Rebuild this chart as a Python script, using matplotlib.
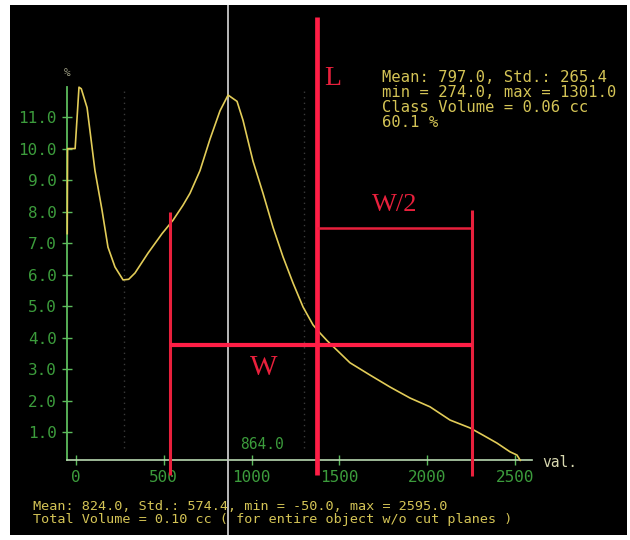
import matplotlib
matplotlib.use("Agg")
import matplotlib.pyplot as plt

# ---- data ----
curve_x = [-50, -48, -5, 17, 30, 63, 108, 148, 182, 222, 268, 300, 336, 410, 490,
           553, 609, 649, 706, 763, 820, 866, 917, 951, 1008, 1065, 1122, 1179,
           1236, 1293, 1350, 1390, 1430, 1486, 1560, 1674, 1788, 1902, 2016, 2130,
           2244, 2318, 2397, 2472, 2511, 2530]
curve_y = [7.3, 10.0, 10.0, 11.95, 11.9, 11.3, 9.3, 8.05, 6.87, 6.24, 5.83, 5.85,
           6.05, 6.68, 7.3, 7.73, 8.2, 8.58, 9.3, 10.3, 11.2, 11.7, 11.5, 10.9,
           9.6, 8.58, 7.5, 6.56, 5.73, 4.97, 4.4, 4.14, 3.9, 3.6, 3.2, 2.81, 2.43,
           2.08, 1.8, 1.38, 1.13, 0.9, 0.65, 0.37, 0.27, 0.1]
x_ticks = [0, 500, 1000, 1500, 2000, 2500]
x_tick_labels = ["0", "500", "1000", "1500", "2000", "2500"]
y_ticks = [1, 2, 3, 4, 5, 6, 7, 8, 9, 10, 11]
y_tick_labels = ["1.0", "2.0", "3.0", "4.0", "5.0", "6.0", "7.0", "8.0", "9.0", "10.0", "11.0"]
x_min, x_max = -50, 2595
y_top = 11.95
marker_value = 864.0
class_min, class_max = 274.0, 1301.0
L_x = 1372
W_left, W_right = 535, 2255
W_y = 3.76
W2_y = 7.48
class_text = "Mean: 797.0, Std.: 265.4\nmin = 274.0, max = 1301.0\nClass Volume = 0.06 cc\n60.1 %"
total_text = ("Mean: 824.0, Std.: 574.4, min = -50.0, max = 2595.0\n"
              "Total Volume = 0.10 cc ( for entire object w/o cut planes )")

# ---- style ----
GREEN = "#3c9c3c"
AXGREEN = "#5cbc5c"
XAXIS = "#b8d8b0"
YELLOW = "#e2cc58"
TXT = "#d4c456"
RED = "#ff1e46"
RED2 = "#e8203c"
MONO = "DejaVu Sans Mono"

fig = plt.figure(figsize=(6.3, 5.4), dpi=100, facecolor="white")
ax = fig.add_axes([10 / 630, 5 / 540, 617 / 630, 530 / 540])
ax.set_facecolor("black")
ax.set_xlim(-375.9, 3137.8)
ax.set_ylim(-2.27, 14.56)

# spines
for s in ["top", "right"]:
    ax.spines[s].set_visible(False)
ax.spines["left"].set_position(("data", x_min))
ax.spines["left"].set_bounds(0.11, y_top)
ax.spines["left"].set_color(AXGREEN)
ax.spines["left"].set_linewidth(1.3)
ax.spines["bottom"].set_position(("data", 0.11))
ax.spines["bottom"].set_bounds(x_min, x_max)
ax.spines["bottom"].set_color(XAXIS)
ax.spines["bottom"].set_linewidth(1.2)

ax.set_xticks(x_ticks)
ax.set_xticklabels(x_tick_labels, family=MONO, fontsize=11.5, color=GREEN)
ax.set_yticks(y_ticks)
ax.set_yticklabels(y_tick_labels, family=MONO, fontsize=11.5, color=GREEN)
ax.tick_params(axis="x", direction="inout", length=7, width=1, color=AXGREEN, pad=4)
ax.tick_params(axis="y", direction="inout", length=7, width=1, color=AXGREEN, pad=4)

# dotted class lines
for cx in (class_min, class_max):
    ax.plot([cx, cx], [0.5, y_top], color="#3a3a3a", lw=1.0, ls=(0, (1, 3)), zorder=1)

# marker line
ax.axvline(marker_value, color="#c8c8c8", lw=1.3, zorder=3)

# curve
ax.plot(curve_x, curve_y, color=YELLOW, lw=1.2, zorder=4)

# red annotations
ax.plot([L_x, L_x], [-0.37, 14.17], color=RED, lw=3.4, zorder=5, solid_capstyle="butt")
ax.plot([W_left, W_left], [-0.37, 7.98], color=RED2, lw=2.2, zorder=5, solid_capstyle="butt")
ax.plot([W_right, W_right], [-0.4, 8.05], color=RED2, lw=2.2, zorder=5, solid_capstyle="butt")
ax.plot([W_left, W_right], [W_y, W_y], color=RED, lw=3.0, zorder=5, solid_capstyle="butt")
ax.plot([L_x, W_right], [W2_y, W2_y], color=RED2, lw=1.8, zorder=5, solid_capstyle="butt")

ax.text(1464, 12.24, "L", color=RED2, family="Liberation Serif", fontsize=20,
        ha="center", va="center")
ax.text(1817, 8.2, "W/2", color=RED2, family="Liberation Serif", fontsize=19,
        ha="center", va="center")
ax.text(1071, 3.03, "W", color=RED2, family="Liberation Serif", fontsize=21,
        ha="center", va="center")

# other texts
ax.text(-51, 12.4, "%", color="#9a9a80", family=MONO, fontsize=8, ha="center", va="center")
ax.text(1059, 0.59, "864.0", color=GREEN, family=MONO, fontsize=10.5, ha="center", va="center")
ax.text(2654, 0.02, "val.", color="#d8d8b0", family=MONO, fontsize=10.5, ha="left", va="center")
ax.text(1743, 12.5, class_text, color=TXT, family=MONO, fontsize=11.2, ha="left", va="top",
        linespacing=1.0)
ax.text(-245, -1.15, total_text, color=TXT, family=MONO, fontsize=9.7, ha="left", va="top",
        linespacing=1.05)

fig.savefig("out.png", dpi=100, facecolor="white")
